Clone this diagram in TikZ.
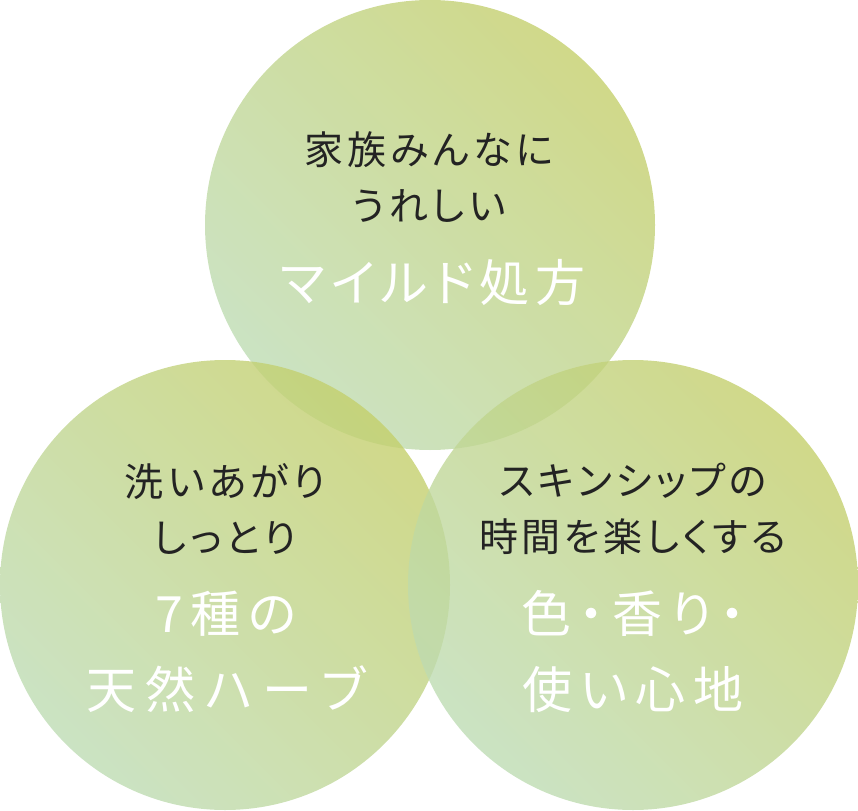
\documentclass[tikz,border=0pt]{standalone}
\usepackage{fontspec}
\usepackage{xcolor}
\usepackage{tikz}
\usetikzlibrary{shadings}
\setmainfont[RawFeature=+palt]{Noto Sans CJK JP}
\definecolor{leaf}{RGB}{196,207,108}
\definecolor{mint}{RGB}{190,220,180}
\definecolor{ink}{RGB}{35,35,35}
% letter spacing, one kern after each character
\newlength\trackamount
\def\tracked#1{\trackloop#1\relax\kern-\trackamount}
\def\trackloop#1{\ifx\relax#1\else#1\kern\trackamount\expandafter\trackloop\fi}

\begin{document}
\begin{tikzpicture}[x=1pt, y=-1pt, semithick]
\tikzstyle{bubble}=[shape=circle, minimum size=450pt, inner sep=0pt,
                    top color=leaf, bottom color=mint, shading angle=-45,
                    fill opacity=0.8]
\tikzstyle{lead}=[text=ink, align=center, inner sep=0pt,
                  font=\fontsize{39}{56}\selectfont\setlength\trackamount{4pt}]
\tikzstyle{claim}=[text=white, align=center, inner sep=0pt,
                   font=\fontsize{50}{76}\selectfont\setlength\trackamount{8pt}]
  \useasboundingbox (0,0) rectangle (858,810);
  % the three circles
  \node[bubble] (mild) at (430,225) {};
  \node[bubble] (herb) at (225,585) {};
  \node[bubble] (skin) at (633,585) {};
  % texts
  \node[lead]  (mildlead)  at (429,177) {\tracked{家族みんなに}\\\tracked{うれしい}};
  \node[claim] (mildclaim) at (433,283) {\setlength\trackamount{6pt}\tracked{マイルド処方}};
  \node[lead]  (herblead)  at (225,509) {\tracked{洗いあがり}\\\tracked{しっとり}};
  \node[claim] (herbclaim) at (226,652) {\tracked{7種の}\\\setlength\trackamount{9.5pt}\tracked{天然ハーブ}};
  \node[lead]  (skinlead)  at (633,509) {\setlength\trackamount{3.5pt}\tracked{スキンシップの}\\\setlength\trackamount{3.5pt}\tracked{時間を楽しくする}};
  \node[claim] (skinclaim) at (633,652) {\tracked{色・香り・}\\\tracked{使い心地}};
\end{tikzpicture}
\end{document}
